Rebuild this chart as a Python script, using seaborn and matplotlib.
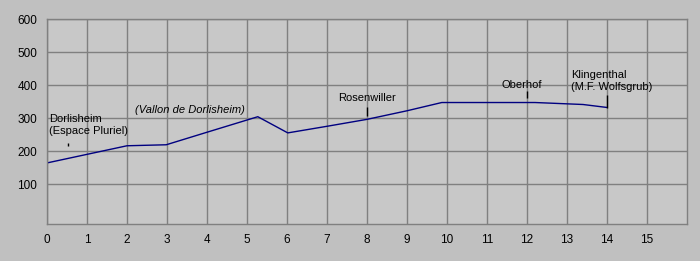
import matplotlib
matplotlib.use("Agg")
import matplotlib.pyplot as plt
import seaborn as sns
import pandas as pd

# Elevation profile data (km, m)
distance_km = [0.0, 2.0, 2.98, 4.0, 5.27, 6.02, 7.0, 8.0, 9.0, 9.87, 12.2, 12.6, 13.4, 13.8, 14.0]
elevation_m = [164, 216, 219, 257, 304, 255, 275, 296, 322, 347, 347, 345, 341, 335, 332]

# Place labels
place_names = ["Dorlisheim\n(Espace Pluriel)", "Rosenwiller", "Oberhof", "Klingenthal\n(M.F. Wolfsgrub)"]
place_text_x = [0.05, 8.0, 11.87, 13.1]
place_text_y = [312, 360, 400, 445]
place_text_ha = ["left", "center", "center", "left"]
place_text_va = ["top", "center", "center", "top"]
marker_x = [0.53, 8.0, 12.0, 14.0]
marker_bottom = [215, 306, 361, 331]
marker_top = [225, 334, 382, 370]

region_name = "(Vallon de Dorlisheim)"
region_x = 2.2
region_y = 324

x_ticks = list(range(0, 16))
y_ticks = [100, 200, 300, 400, 500, 600]

sns.set_theme(style="white")
plt.rcParams["font.family"] = ["Liberation Sans", "DejaVu Sans"]

fig = plt.figure(figsize=(7.0, 2.61), dpi=100, facecolor="#c0c0c0")
ax = fig.add_axes([47 / 700, (261 - 224) / 261, 640 / 700, 205 / 261])
ax.set_facecolor("#c8c8c8")

df = pd.DataFrame({"km": distance_km, "m": elevation_m})
sns.lineplot(data=df, x="km", y="m", ax=ax, color="#000080", linewidth=1.0)

ax.set_xlim(0, 16)
ax.set_ylim(-21, 600)
ax.set_xticks(x_ticks)
ax.set_yticks(y_ticks)
ax.set_xticklabels([str(t) for t in x_ticks])
ax.set_yticklabels([str(t) for t in y_ticks])
ax.grid(True, color="#808080", linewidth=1.0)
ax.set_axisbelow(True)
ax.tick_params(axis="both", length=0, labelsize=8.5, colors="black")
ax.tick_params(axis="y", pad=7)
ax.tick_params(axis="x", pad=7)
ax.set_xlabel("")
ax.set_ylabel("")
for side in ["left", "bottom", "top", "right"]:
    ax.spines[side].set_color("#808080")
    ax.spines[side].set_linewidth(1.0)

ax.vlines(marker_x, marker_bottom, marker_top, color="black", linewidth=1.0)
for name, tx, ty, ha, va in zip(place_names, place_text_x, place_text_y, place_text_ha, place_text_va):
    ax.text(tx, ty, name, ha=ha, va=va, fontsize=8, color="black", linespacing=1.2)
ax.text(region_x, region_y, region_name, ha="left", va="center", fontsize=8,
        style="italic", color="black")

fig.savefig("out.png", dpi=100, facecolor=fig.get_facecolor())
